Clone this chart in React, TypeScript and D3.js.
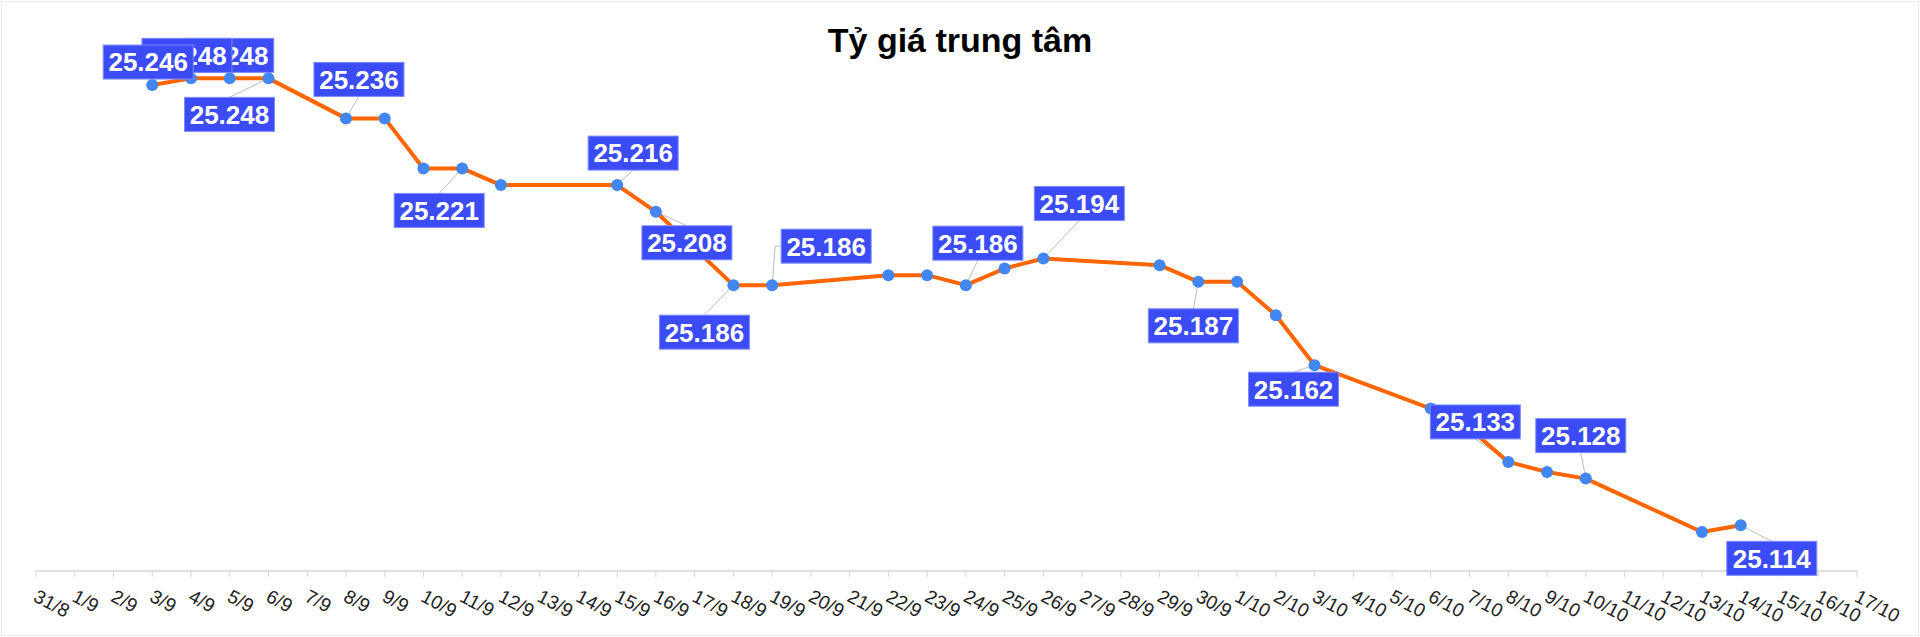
import React from "react";
import * as d3 from "d3";

const W = 1920;
const H = 637;
const FONT = "'Liberation Sans', Arial, Helvetica, sans-serif";

const title = "Tỷ giá trung tâm";

// axis categories (every day from 31/8 to 17/10)
const axisDates: string[] = [
  "31/8",
  "1/9", "2/9", "3/9", "4/9", "5/9", "6/9", "7/9", "8/9", "9/9", "10/9",
  "11/9", "12/9", "13/9", "14/9", "15/9", "16/9", "17/9", "18/9", "19/9", "20/9",
  "21/9", "22/9", "23/9", "24/9", "25/9", "26/9", "27/9", "28/9", "29/9", "30/9",
  "1/10", "2/10", "3/10", "4/10", "5/10", "6/10", "7/10", "8/10", "9/10", "10/10",
  "11/10", "12/10", "13/10", "14/10", "15/10", "16/10", "17/10",
];

// observed dates and central rate values
const seriesDates: string[] = [
  "3/9", "4/9", "5/9", "6/9", "8/9", "9/9", "10/9", "11/9", "12/9", "15/9",
  "16/9", "18/9", "19/9", "22/9", "23/9", "24/9", "25/9", "26/9", "29/9", "30/9",
  "1/10", "2/10", "3/10", "6/10", "7/10", "8/10", "9/10", "10/10", "13/10", "14/10",
];
const seriesValues: number[] = [
  25.246, 25.248, 25.248, 25.248, 25.236, 25.236, 25.221, 25.221, 25.216, 25.216,
  25.208, 25.186, 25.186, 25.189, 25.189, 25.186, 25.191, 25.194, 25.192, 25.187,
  25.187, 25.177, 25.162, 25.149, 25.143, 25.133, 25.130, 25.128, 25.112, 25.114,
];

// which points carry a data label (drawn in reverse order so earlier ones sit on top)
const labeledDates: string[] = [
  "3/9", "4/9", "5/9", "6/9", "8/9", "11/9", "15/9", "16/9", "18/9", "19/9",
  "24/9", "26/9", "30/9", "3/10", "8/10", "10/10", "14/10",
];

// label placement (layout only): offset of box centre from point, and leader anchor
const labelLayout: { dx: number; dy: number; anchor: string }[] = [
  { dx: -4, dy: -23, anchor: "none" },
  { dx: -4, dy: -23, anchor: "none" },
  { dx: -1, dy: -23, anchor: "none" },
  { dx: -39, dy: 36, anchor: "top" },
  { dx: 13, dy: -39, anchor: "bottom" },
  { dx: -23, dy: 42, anchor: "top" },
  { dx: 16, dy: -32, anchor: "bottom" },
  { dx: 31, dy: 31, anchor: "top" },
  { dx: -29, dy: 47, anchor: "top" },
  { dx: 54, dy: -39, anchor: "left" },
  { dx: 12, dy: -42, anchor: "bottom" },
  { dx: 36, dy: -55, anchor: "bottom" },
  { dx: -5, dy: 44, anchor: "top" },
  { dx: -21, dy: 24, anchor: "top" },
  { dx: -33, dy: -40, anchor: "bottom" },
  { dx: -5, dy: -43, anchor: "bottom" },
  { dx: 31, dy: 33, anchor: "top" },
];

const fmt = (v: number) => v.toFixed(3);

export default function App() {
  const x = d3.scalePoint<string>().domain(axisDates).range([36, 1857]);
  const y = d3.scaleLinear().domain([25.1, 25.25]).range([572, 71.7]);
  const axisY = 571;

  const pts = seriesDates.map((d, i) => ({ d, v: seriesValues[i], px: x(d) as number, py: y(seriesValues[i]) }));
  const line = d3
    .line<{ px: number; py: number }>()
    .x((p) => p.px)
    .y((p) => p.py);

  const BW = 90;
  const BH = 34;

  const labels = labeledDates.map((d, i) => {
    const p = pts.find((q) => q.d === d)!;
    const L = labelLayout[i];
    const cx = p.px + L.dx;
    const cy = p.py + L.dy;
    let leader: string | null = null;
    if (L.anchor === "top") leader = `M${p.px},${p.py}L${cx},${cy - BH / 2}`;
    else if (L.anchor === "bottom") leader = `M${p.px},${p.py}L${cx},${cy + BH / 2}`;
    else if (L.anchor === "left") leader = `M${p.px},${p.py}L${cx - BW / 2 - 6},${cy}L${cx - BW / 2},${cy}`;
    return { d, v: p.v, cx, cy, leader };
  });

  return (
    <div style={{ position: "fixed", left: 0, top: 0, width: W, height: H, background: "#fff" }}>
      <svg width={W} height={H} style={{ display: "block" }} fontFamily={FONT}>
        <rect x={0} y={0} width={W} height={H} fill="#fff" />
        <rect x={1.5} y={1.5} width={W - 3} height={H - 3} fill="none" stroke="#ececec" />
        <text x={960} y={52} textAnchor="middle" fontSize={34} fontWeight="bold" fill="#000">
          {title}
        </text>

        {/* x axis */}
        <line x1={x(axisDates[0])} x2={x(axisDates[axisDates.length - 1])} y1={axisY} y2={axisY} stroke="#d6d6d6" strokeWidth={1.5} />
        {axisDates.map((d) => (
          <g key={d} transform={`translate(${x(d)},0)`}>
            <line x1={0} x2={0} y1={axisY} y2={axisY + 6} stroke="#d6d6d6" />
            <text
              transform={`translate(3,${axisY + 17}) rotate(28)`}
              fontSize={19}
              fill="#222"
              dy="0.75em"
            >
              {d}
            </text>
          </g>
        ))}

        {/* leader lines */}
        {labels.map((l) =>
          l.leader ? <path key={"ld" + l.d} d={l.leader} fill="none" stroke="#bdbdbd" strokeWidth={1} /> : null
        )}

        {/* series line */}
        <path d={line(pts) || ""} fill="none" stroke="#ff6600" strokeWidth={4} strokeLinejoin="round" />
        {pts.map((p) => (
          <circle key={p.d} cx={p.px} cy={p.py} r={6} fill="#4286f2" />
        ))}

        {/* data labels */}
        {labels
          .slice()
          .reverse()
          .map((l) => (
            <g key={"lb" + l.d}>
              <rect x={l.cx - BW / 2} y={l.cy - BH / 2} width={BW} height={BH} fill="#3b4bf6" stroke="#7c8aff" strokeWidth={1} />
              <text x={l.cx} y={l.cy} dy="0.36em" textAnchor="middle" fontSize={26} fontWeight="bold" fill="#fff">
                {fmt(l.v)}
              </text>
            </g>
          ))}
      </svg>
    </div>
  );
}
